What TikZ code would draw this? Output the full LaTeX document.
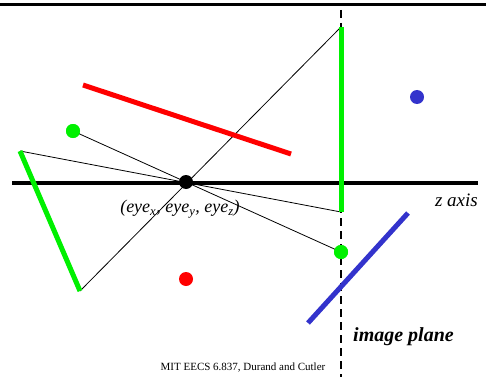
\documentclass[tikz,border=0pt]{standalone}
\usepackage{fontspec}
\setmainfont{Liberation Serif}
\begin{document}
\begin{tikzpicture}[x=1pt,y=-1pt,
  thin line/.style={black,line width=0.8pt},
  thick seg/.style={line width=5pt},
  dot/.style={circle,inner sep=0pt,minimum size=14pt},
  lbl/.style={inner sep=0pt}]
\definecolor{gr}{RGB}{0,240,0}
\definecolor{rd}{RGB}{255,0,0}
\definecolor{bl}{RGB}{51,51,204}
\useasboundingbox (0,0) rectangle (486,377);
% top border
\draw[line width=3pt] (0,5) -- (486,5);
% image plane (dashed)
\coordinate (ptop) at (341,10);
\coordinate (pbot) at (341,377);
\draw[line width=2.5pt,dash pattern=on 8pt off 5pt] (ptop) -- (pbot);
% z axis
\coordinate (zl) at (12,183);
\coordinate (zr) at (478,183);
\draw[line width=4.5pt] (zl) -- (zr);
% points
\coordinate (gA) at (20,151);
\coordinate (gB) at (80,291);
\coordinate (vT) at (341,27);
\coordinate (vB) at (341,212);
\coordinate (rA) at (83,85);
\coordinate (rB) at (291,154);
\coordinate (bA) at (408,213);
\coordinate (bB) at (308,323);
% thin projection lines
\draw[thin line] (vT) -- (gB);
\draw[thin line] (gA) -- (vB);
\node[dot,fill=gr] (g1) at (73,131) {};
\node[dot,fill=gr] (g2) at (341,252) {};
\draw[thin line] (g1.center) -- (g2.center);
% colored segments
\draw[thick seg,gr] (gA) -- (gB);
\draw[thick seg,gr] (vT) -- (vB);
\draw[thick seg,rd] (rA) -- (rB);
\draw[thick seg,bl] (bA) -- (bB);
\node[dot,fill=gr] at (g1) {};
\node[dot,fill=gr] at (g2) {};
\node[dot,fill=rd] (r1) at (186,279) {};
\node[dot,fill=bl] (b1) at (417,97) {};
% eye
\node[dot,fill=black] (eye) at (186,182) {};
% labels
\node[lbl,font=\fontsize{18}{20}\selectfont\itshape] (eyel) at (180,209) {(eye\textsubscript{x}, eye\textsubscript{y}, eye\textsubscript{z})};
\node[lbl,font=\fontsize{19}{21}\selectfont\itshape,anchor=east] (zlab) at (478,200) {z axis};
\node[lbl,font=\fontsize{20}{22}\selectfont\bfseries\itshape,anchor=west] (iplab) at (353,337) {image plane};
\node[lbl,font=\fontsize{11}{13}\selectfont] (cred) at (243,368) {MIT EECS 6.837, Durand and Cutler};
\end{tikzpicture}
\end{document}
